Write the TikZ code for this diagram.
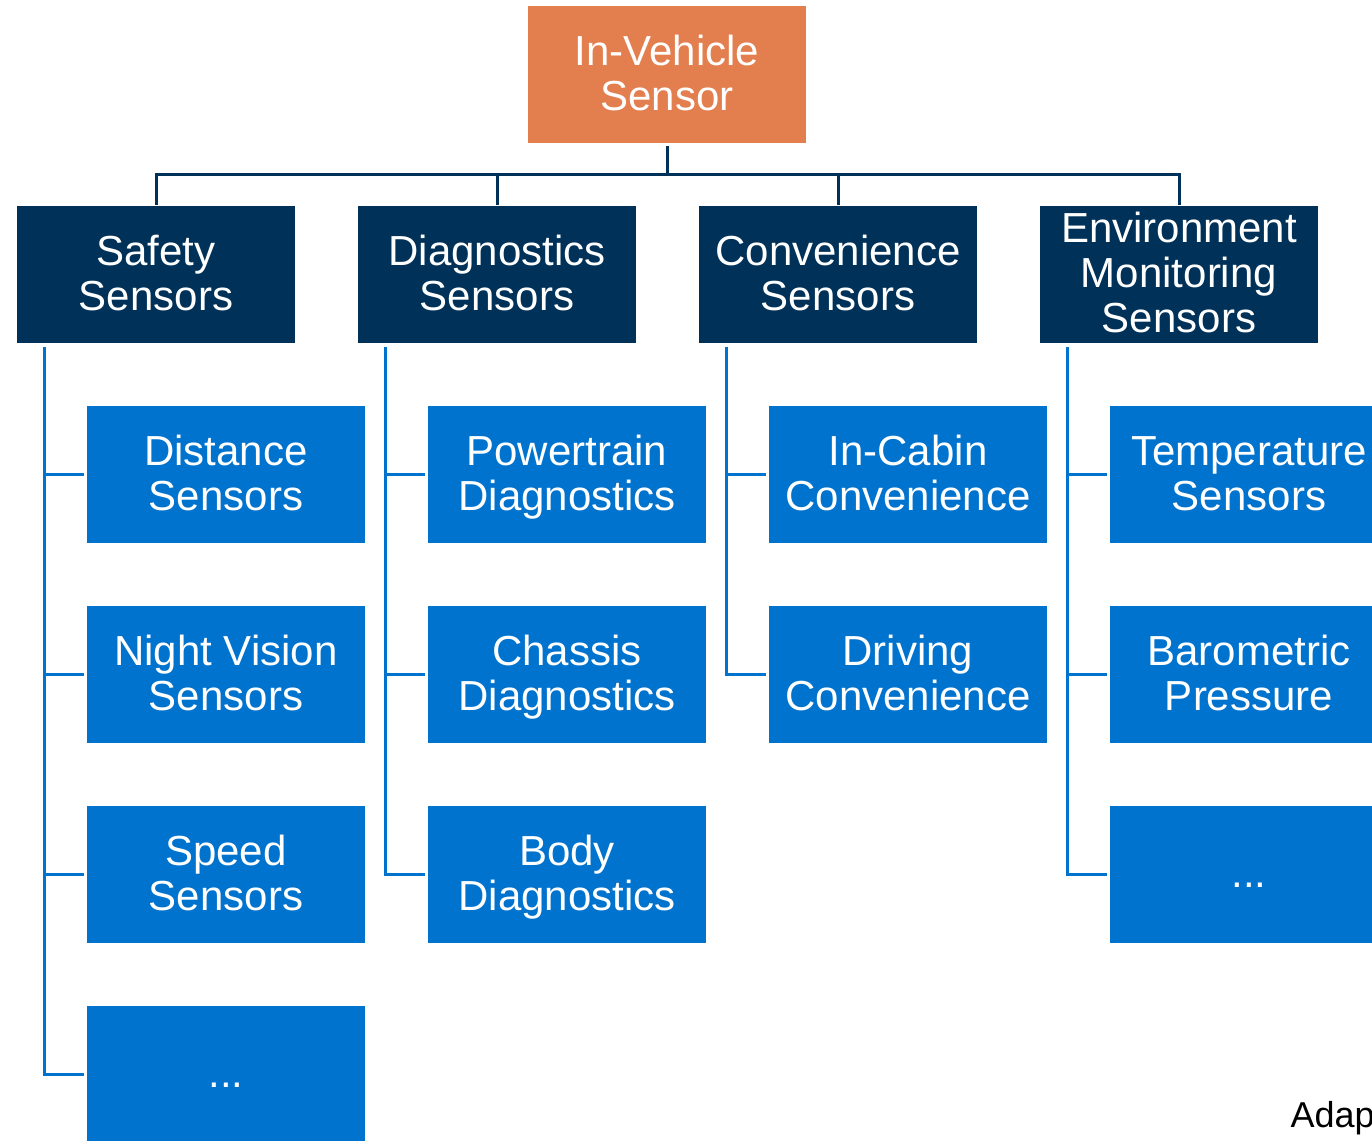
\documentclass[tikz,border=0pt]{standalone}
\usepackage{fontspec}
\setmainfont{Liberation Sans}

\definecolor{rootorange}{RGB}{227,126,78}
\definecolor{groupnavy}{RGB}{0,49,88}
\definecolor{leafblue}{RGB}{0,115,207}

\begin{document}
\begin{tikzpicture}[x=1pt,y=-1pt,
	box/.style={rectangle,inner sep=0,outer sep=0,minimum width=278pt,minimum height=137pt,align=center,text=white,font=\fontsize{42}{45}\selectfont,
		text height=80.5pt,text depth=9.5pt},
	oneline/.style={text height=35.5pt},
	threelines/.style={text height=125.5pt},
	rootbox/.style={box,fill=rootorange},
	groupbox/.style={box,fill=groupnavy},
	leafbox/.style={box,fill=leafblue},
	bus/.style={draw=groupnavy,line width=3pt},
	feeder/.style={draw=leafblue,line width=3pt,shorten >=3pt}]
	\useasboundingbox (0,0) rectangle (1372,1140);
	\clip (0,0) rectangle (1372,1140);
	\fill[white] (0,0) rectangle (1372,1140);

	\node[rootbox] (root) at (667,74.5) {In-Vehicle\\Sensor};

	\node[groupbox] (safety) at (156,274.5) {Safety\\Sensors};
	\node[groupbox] (diag) at (497,274.5) {Diagnostics\\Sensors};
	\node[groupbox] (conv) at (838,274.5) {Convenience\\Sensors};
	\node[groupbox,threelines] (env) at (1179,274.5) {Environment\\Monitoring\\Sensors};

	\node[leafbox] (distance) at (226,474.5) {Distance\\Sensors};
	\node[leafbox] (night) at (226,674.5) {Night Vision\\Sensors};
	\node[leafbox] (speed) at (226,874.5) {Speed\\Sensors};
	\node[leafbox,oneline] (safetymore) at (226,1074.5) {...};

	\node[leafbox] (powertrain) at (567,474.5) {Powertrain\\Diagnostics};
	\node[leafbox] (chassis) at (567,674.5) {Chassis\\Diagnostics};
	\node[leafbox] (body) at (567,874.5) {Body\\Diagnostics};

	\node[leafbox] (cabin) at (908,474.5) {In-Cabin\\Convenience};
	\node[leafbox] (driving) at (908,674.5) {Driving\\Convenience};

	\node[leafbox] (temp) at (1249,474.5) {Temperature\\Sensors};
	\node[leafbox] (baro) at (1249,674.5) {Barometric\\Pressure};
	\node[leafbox,oneline] (envmore) at (1249,874.5) {...};

	% top level tree
	\coordinate (busmid) at (667,174);
	\draw[bus] ([yshift=-3pt]root.south) -- (busmid);
	\foreach \g in {safety,diag,conv,env}
		\draw[bus,line cap=rect] (busmid) -| ([yshift=3pt]\g.north);

	% leaves hanging off each group
	\foreach \g/\leaves in {safety/{distance,night,speed,safetymore},diag/{powertrain,chassis,body},conv/{cabin,driving},env/{temp,baro,envmore}}
		\foreach \l in \leaves
			\draw[feeder] ([xshift=27pt,yshift=-4pt]\g.south west) |- (\l.west);

	\node[anchor=base west,font=\fontsize{36}{40}\selectfont] (credit) at (1287,1127) {Adap};
\end{tikzpicture}
\end{document}
